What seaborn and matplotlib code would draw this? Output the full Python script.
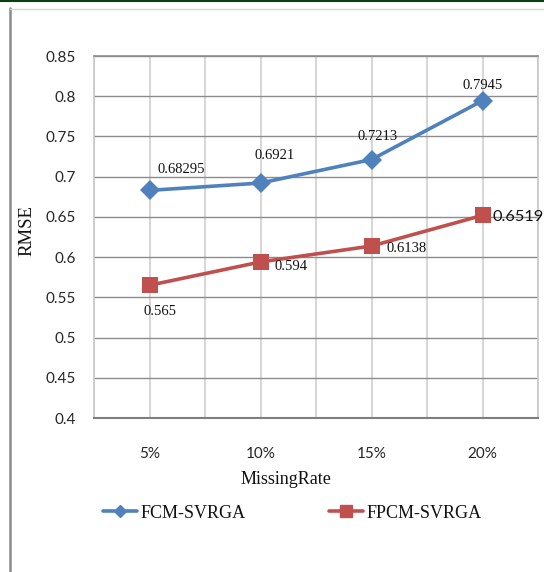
import matplotlib
matplotlib.use("Agg")
import matplotlib.pyplot as plt
from matplotlib.lines import Line2D
import seaborn as sns
import pandas as pd

# Data
rates = ["5%", "10%", "15%", "20%"]
fcm_svrga = [0.68295, 0.6921, 0.7213, 0.7945]
fpcm_svrga = [0.565, 0.594, 0.6138, 0.6519]
series_names = ["FCM-SVRGA", "FPCM-SVRGA"]
colors = ["#4F81BD", "#C0504D"]

# label offsets in pixels (dx, dy) relative to each point
fcm_offsets = [(8, 21), (-6, 28), (-14, 23), (-20, 15)]
fpcm_offsets = [(-6, -26), (14, -5), (15, -2), (10, -2)]

df = pd.DataFrame({
    "idx": list(range(len(rates))) * 2,
    "RMSE": fcm_svrga + fpcm_svrga,
    "method": [series_names[0]] * len(rates) + [series_names[1]] * len(rates),
})

sns.set_theme(style="white")
plt.rcParams["font.family"] = ["Lato", "DejaVu Sans"]

fig = plt.figure(figsize=(5.44, 5.72), dpi=100)
W, H = 544, 572
ax = fig.add_axes([94 / W, 1 - 418 / H, (538 - 94) / W, (418 - 56) / H])

sns.lineplot(data=df, x="idx", y="RMSE", hue="method", style="method",
             palette=colors, markers=["D", "s"], dashes=False,
             linewidth=2.6, markersize=10, markeredgewidth=0,
             ax=ax, legend=False, zorder=3)
# enlarge square markers slightly
for ln, ms in zip(ax.lines, [10, 12]):
    ln.set_markersize(ms)

ax.set_xlim(-0.5, 3.5)
ax.set_ylim(0.4, 0.85)
ax.set_xticks(range(len(rates)))
ax.set_xticklabels(rates)
ax.set_xticks([-0.5, 0.5, 1.5, 2.5, 3.5], minor=True)
yt = [0.4, 0.45, 0.5, 0.55, 0.6, 0.65, 0.7, 0.75, 0.8, 0.85]
ax.set_yticks(yt)
ax.set_yticklabels([f"{v:g}" for v in yt])

ax.grid(False)
ax.xaxis.grid(True, which="both", color="#d0d0d0", linewidth=1.2)
ax.yaxis.grid(True, which="major", color="#8c8c8c", linewidth=1.0)
ax.set_axisbelow(True)

for side in ["top", "right", "left"]:
    ax.spines[side].set_color("#c8c8c8")
    ax.spines[side].set_linewidth(1.2)
ax.spines["top"].set_color("#8c8c8c")
ax.spines["bottom"].set_color("#7f7f7f")
ax.spines["bottom"].set_linewidth(1.5)

ax.tick_params(axis="both", which="both", length=0, labelsize=11,
               labelcolor="#262626")
ax.tick_params(axis="x", pad=21)
ax.tick_params(axis="y", pad=13)

ax.set_xlabel("")
ax.set_ylabel("")
fig.text(286 / W, 1 - 479 / H, "MissingRate", ha="center", va="center",
         fontsize=13, family="Liberation Serif", color="#111111")
fig.text(27 / W, 1 - 230 / H, "RMSE", ha="center", va="center",
         rotation=90, fontsize=13.5, family="Liberation Serif",
         color="#111111")

# value labels
for vals, offs in [(fcm_svrga, fcm_offsets), (fpcm_svrga, fpcm_offsets)]:
    for i, (v, (dx, dy)) in enumerate(zip(vals, offs)):
        is_last_red = vals is fpcm_svrga and i == len(vals) - 1
        ax.annotate(f"{v:g}", (i, v), xytext=(dx, dy),
                    textcoords="offset pixels", ha="left", va="center",
                    fontsize=11.8 if is_last_red else 10.5,
                    family="Lato" if is_last_red else "Liberation Serif",
                    color="#111111", annotation_clip=False, zorder=5)

# legend
handles = [
    Line2D([], [], color=colors[0], marker="D", markersize=6, linewidth=2.6),
    Line2D([], [], color=colors[1], marker="s", markersize=8, linewidth=2.6),
]
leg = fig.legend(handles, series_names, loc="center left",
                 bbox_to_anchor=(103 / W, 1 - 513 / H), ncol=2,
                 frameon=False, borderpad=0, borderaxespad=0,
                 handlelength=1.9, handletextpad=0.2, columnspacing=4.6,
                 prop={"family": "Liberation Serif", "size": 13})
for t in leg.get_texts():
    t.set_color("#111111")

# outer frame lines
fig.add_artist(Line2D([0, 1], [1 - 0.5 / H, 1 - 0.5 / H], color="#0b3d12",
                      linewidth=1.5, transform=fig.transFigure))
fig.add_artist(Line2D([10 / W, 10 / W], [0, 1 - 8 / H], color="#8a8a8a",
                      linewidth=1.8, transform=fig.transFigure))
fig.add_artist(Line2D([10 / W, 1], [1 - 8.5 / H, 1 - 8.5 / H], color="#d4d4d4",
                      linewidth=1.0, transform=fig.transFigure))

fig.savefig("out.png", dpi=100, facecolor="white")
